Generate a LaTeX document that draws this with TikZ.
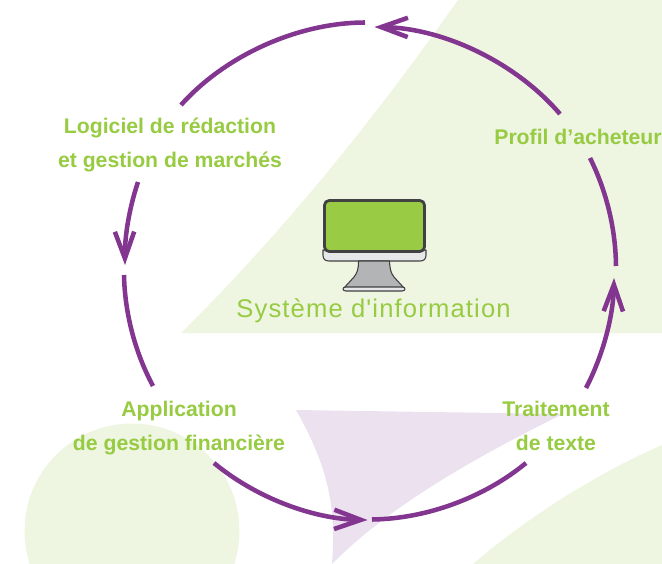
\documentclass[tikz,border=0pt]{standalone}
\usepackage{fontspec}
\setmainfont{Liberation Sans}
\newfontfamily\sysfont[LetterSpace=4.5]{Liberation Sans}
\usetikzlibrary{arrows.meta}
\definecolor{lbl}{HTML}{97CB42}
\definecolor{pur}{HTML}{82368F}
\definecolor{pale}{HTML}{EEF5E1}
\definecolor{lil}{HTML}{EBE1EF}
\definecolor{scr}{HTML}{9ACB45}
\definecolor{bez}{HTML}{414042}
\definecolor{chin}{HTML}{E6E7E8}
\definecolor{foot}{HTML}{B3B4B6}
\tikzset{
  x=0.75pt,y=-0.75pt,
  lab/.style={text=lbl,align=center,inner sep=0pt,font=\fontsize{15.9}{25.5}\selectfont\bfseries},
  arc/.style={draw=pur,line width=3.4pt,looseness=.85},
  tip/.style={-{Straight Barb[length=20pt,width=14.5pt,line width=3.4pt]}},
  mon/.style={draw=bez,line width=.8pt,line join=round}
}
\begin{document}
\begin{tikzpicture}
\useasboundingbox (0,0) rectangle (662,564);
\begin{scope}
\clip (0,0) rectangle (662,564);
\fill[pale] (458,0) .. controls (370,125) and (280,235) .. (181,333) -- (662,333) -- (662,0) -- cycle;
\fill[pale] (132,531) circle[radius=107.5];
\fill[pale] (473,564) .. controls (530,515) and (600,472) .. (662,445) -- (662,564) -- cycle;
\fill[lil] (296,410) -- (563,414) .. controls (480,455) and (390,505) .. (332,564)
  .. controls (336,510) and (330,470) .. (296,410) -- cycle;
\end{scope}
% monitor
\draw[mon,fill=chin] (323,250) -- (323,255) .. controls (323,259) and (325,261) .. (329,261) -- (420,261)
  .. controls (424,261) and (426,259) .. (426,255) -- (426,250) -- cycle;
\draw[mon,fill=foot] (358.5,261) .. controls (358.5,270) and (357,273) .. (354,277) -- (344,288) -- (404,288)
  -- (394,277) .. controls (391,273) and (390,270) .. (389.5,261) -- cycle;
\draw[mon,fill=chin] (346,287) -- (402,287) .. controls (406,287) and (406,291) .. (402,291) -- (346,291)
  .. controls (342,291) and (342,287) .. (346,287) -- cycle;
\draw[draw=bez,line width=2.1pt,fill=scr,rounded corners=3.5pt] (324.5,200.5) rectangle (424.5,251.5);
\node[text=lbl,inner sep=0pt,font=\sysfont\fontsize{19.2}{23}\selectfont] (si) at (373.5,311) {Système d'information};
% labels
\node[lab] (log) at (170,145) {Logiciel de rédaction\\et gestion de marchés};
\node[lab] (pro) at (578,137) {Profil d’acheteur};
\node[lab] (app) at (179,428) {Application\\de gestion financière};
\node[lab] (tra) at (556,426) {Traitement\\de texte};
% end points of the arcs
\coordinate (a1) at (560,114); \coordinate (a2) at (374.5,27);
\coordinate (b1) at (365,22.5); \coordinate (b2) at (181,105);
\coordinate (c1) at (138,182); \coordinate (c2) at (125,265);
\coordinate (d1) at (124,275); \coordinate (d2) at (153,386);
\coordinate (e1) at (214,463); \coordinate (e2) at (367.5,520);
\coordinate (f1) at (372,519.5); \coordinate (f2) at (526,463);
\coordinate (g1) at (586,388); \coordinate (g2) at (614,278);
\coordinate (h1) at (616,266); \coordinate (h2) at (590,158);
\draw[arc,tip] (a1) to[bend right=24.4] (a2);
\draw[arc] (b1) to[bend right=24] (b2);
\draw[arc,tip] (c1) to[bend right=9.7] (c2);
\draw[arc] (d1) to[bend right=13.5] (d2);
\draw[arc,tip] (e1) to[bend right=19.3] (e2);
\draw[arc] (f1) to[bend right=19.4] (f2);
\draw[arc,tip] (g1) to[bend right=13.2] (g2);
\draw[arc] (h1) to[bend right=13] (h2);
\end{tikzpicture}
\end{document}
